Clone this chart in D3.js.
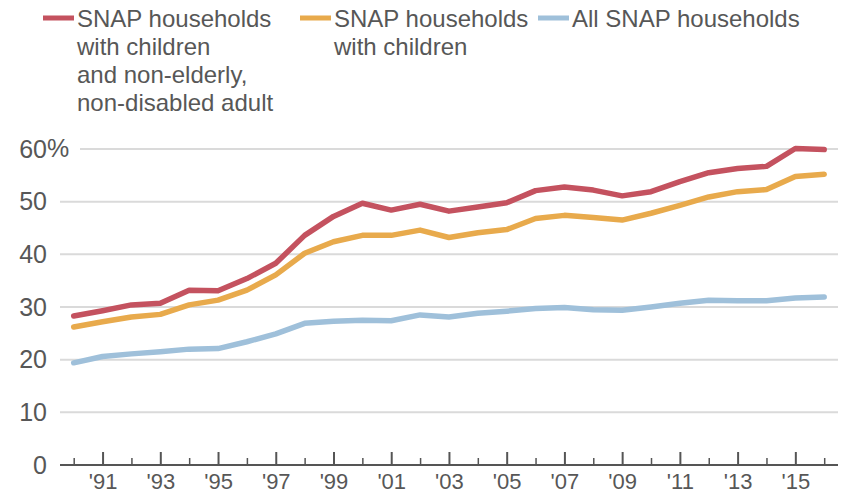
<!DOCTYPE html>
<html>
<head>
<meta charset="utf-8">
<script src="https://cdn.jsdelivr.net/npm/d3@7"></script>
<style>
  html, body { margin: 0; padding: 0; background: #fff; }
  svg { display: block; font-family: "Liberation Sans", Arial, sans-serif; }
</style>
</head>
<body>
<svg id="chart" width="848" height="494"></svg>
<script>
// Share of households (%) by year
const years = [1990,1991,1992,1993,1994,1995,1996,1997,1998,1999,2000,2001,2002,2003,2004,2005,2006,2007,2008,2009,2010,2011,2012,2013,2014,2015,2016];
const withChildrenAndAdult = [28.3,29.3,30.4,30.7,33.2,33.1,35.4,38.3,43.6,47.2,49.7,48.4,49.5,48.2,49.0,49.8,52.1,52.8,52.2,51.1,51.9,53.8,55.5,56.3,56.7,60.1,59.9];
const withChildren = [26.2,27.2,28.1,28.6,30.4,31.3,33.2,36.1,40.2,42.4,43.6,43.6,44.6,43.2,44.1,44.7,46.8,47.4,47.0,46.5,47.8,49.3,50.9,51.9,52.3,54.8,55.2];
const allHouseholds = [19.4,20.6,21.1,21.5,22.0,22.1,23.4,24.9,26.9,27.3,27.5,27.4,28.5,28.1,28.8,29.2,29.7,29.9,29.5,29.4,30.0,30.7,31.3,31.2,31.2,31.7,31.9];

const seriesNames = [
  ["SNAP households", "with children", "and non-elderly,", "non-disabled adult"],
  ["SNAP households", "with children"],
  ["All SNAP households"]
];
const yTicks = [0, 10, 20, 30, 40, 50, 60];
const majorYears = [1991,1993,1995,1997,1999,2001,2003,2005,2007,2009,2011,2013,2015];
const minorYears = [1990,1992,1994,1996,1998,2000,2002,2004,2006,2008,2010,2012,2014,2016];

const colors = ["#c4525f", "#e8aa4c", "#9fc0da"];
const textColor = "#575757";

const svg = d3.select("#chart");

const x = d3.scaleLinear().domain([1990, 2016]).range([73.7, 824.2]);
const y = d3.scaleLinear().domain([0, 60]).range([465, 149]);

const axisLeftEdge = 60, axisRightEdge = 838;

// Horizontal gridlines (the top one starts after the "%" label)
svg.append("g").selectAll("line")
  .data(yTicks.filter(d => d > 0))
  .join("line")
  .attr("x1", d => d === 60 ? 80 : axisLeftEdge)
  .attr("x2", axisRightEdge)
  .attr("y1", d => y(d))
  .attr("y2", d => y(d))
  .attr("stroke", "#dadada")
  .attr("stroke-width", 2);

// Y axis labels
const yAxis = svg.append("g")
  .attr("transform", "translate(47,0)")
  .call(d3.axisLeft(y).tickValues(yTicks).tickSize(0).tickPadding(0));
yAxis.select(".domain").remove();
yAxis.selectAll("text")
  .attr("font-size", 25)
  .attr("font-family", "'Liberation Sans', Arial, sans-serif")
  .attr("fill", textColor);
svg.append("text")
  .attr("x", 47)
  .attr("y", y(60))
  .attr("dy", "0.32em")
  .attr("font-size", 25)
  .attr("fill", textColor)
  .text("%");

// Lines
const line = d3.line()
  .x((d, i) => x(years[i]))
  .y(d => y(d));

[withChildrenAndAdult, withChildren, allHouseholds].forEach((vals, k) => {
  svg.append("path")
    .datum(vals)
    .attr("d", line)
    .attr("fill", "none")
    .attr("stroke", colors[k])
    .attr("stroke-width", 5.5)
    .attr("stroke-linejoin", "round")
    .attr("stroke-linecap", "round");
});

// X axis: minor ticks, major ticks with labels, baseline
const minorAxis = svg.append("g")
  .attr("transform", `translate(0,${y(0)})`)
  .call(d3.axisBottom(x).tickValues(minorYears).tickSize(-7).tickFormat(""));
minorAxis.select(".domain").remove();
minorAxis.selectAll("line").attr("stroke", "#555").attr("stroke-width", 1.5);

const majorAxis = svg.append("g")
  .attr("transform", `translate(0,${y(0)})`)
  .call(d3.axisBottom(x).tickValues(majorYears).tickSize(-13).tickPadding(8)
    .tickFormat(d => "'" + String(d).slice(2)));
majorAxis.select(".domain").remove();
majorAxis.selectAll("line").attr("stroke", "#555").attr("stroke-width", 2);
majorAxis.selectAll("text")
  .attr("font-size", 22)
  .attr("font-family", "'Liberation Sans', Arial, sans-serif")
  .attr("fill", textColor);

svg.append("line")
  .attr("x1", axisLeftEdge).attr("x2", axisRightEdge)
  .attr("y1", y(0)).attr("y2", y(0))
  .attr("stroke", "#555").attr("stroke-width", 2);

// Legend
const legendX = [43, 300, 538];
const legend = svg.append("g");
seriesNames.forEach((lines, k) => {
  const g = legend.append("g").attr("transform", `translate(${legendX[k]},0)`);
  g.append("rect")
    .attr("x", 0).attr("y", 15.5)
    .attr("width", 31).attr("height", 5)
    .attr("fill", colors[k]);
  const t = g.append("text")
    .attr("font-size", 24)
    .attr("fill", textColor);
  lines.forEach((s, i) => {
    t.append("tspan")
      .attr("x", 34)
      .attr("y", 27 + i * 28)
      .text(s);
  });
});
</script>
</body>
</html>
